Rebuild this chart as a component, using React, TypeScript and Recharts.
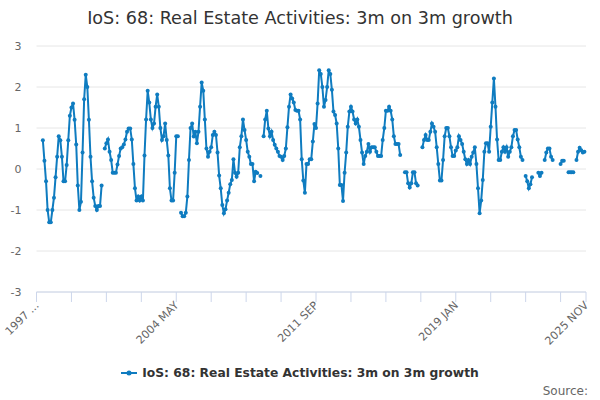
import React from "react"
import { CartesianGrid, Line, LineChart, XAxis, YAxis } from "recharts"

const MONTH_NAMES = ["JAN", "FEB", "MAR", "APR", "MAY", "JUN", "JUL", "AUG", "SEP", "OCT", "NOV", "DEC"]

// 1997 JAN .. 2025 NOV
const months: string[] = []
for (let y = 1997; y <= 2025; y++) {
  for (let m = 0; m < 12; m++) {
    if (y === 2025 && m > 10) break
    months.push(`${y} ${MONTH_NAMES[m]}`)
  }
}

// 3m on 3m growth, %, one value per month (null = no data)
const growth: (number | null)[] = [
  null, null, null, null,
  0.7, 0.2, -0.3, -1.0, -1.3, -1.3, -1.0, -0.7, -0.2, 0.3,
  0.8, 0.7, 0.3, -0.3, -0.3, 0.1, 0.7, 1.3, 1.5, 1.6,
  1.2, 0.6, -0.4, -1.0, -0.8, 0.4, 1.7, 2.3, 2.0, 1.2,
  0.3, -0.3, -0.7, -0.9, -1.0, -0.9, -0.9, -0.4,
  null,
  0.5, 0.63, 0.72, 0.42, 0.22, -0.09, -0.09, -0.09, 0.11, 0.32, 0.5, 0.53,
  0.6, 0.72, 0.91, 0.99, 0.99, 0.72, 0.12, -0.47, -0.77, -0.67,
  -0.77, -0.67, -0.77, 0.33, 1.21, 1.91,
  1.62, 1.21, 1.0, 1.11, 1.52, 1.82, 1.52, 1.0, 0.71, 0.8,
  1.11, 0.71, 0.33, -0.47, -0.77, -0.77, -0.09, 0.8, 0.8,
  null,
  -1.07, -1.15, -1.15, -1.07, -0.67, 0.22, 1.0, 1.11, 0.79, 0.91,
  0.63, 0.91, 1.52, 2.11, 1.91, 1.21, 0.5, 0.3, 0.42, 0.53,
  0.83, 0.91, 0.83, 0.4, -0.16, -0.47, -0.88, -1.08, -0.98, -0.77,
  -0.58, -0.37, -0.27, 0.24, -0.09, -0.19, -0.09, 0.53, 0.8, 1.21,
  0.95, 0.71, 0.42, 0.3, 0.12, 0.12, -0.3, -0.07, -0.1,
  null, -0.17, null,
  0.8, 1.21, 1.42, 0.99, 0.8, 0.91, 0.71,
  0.59, 0.5, 0.42, 0.32, 0.3, 0.22, 0.32, 0.5, 1.02, 1.52,
  1.82, 1.72, 1.62, 1.44, 1.42, 1.42, 1.21, 0.24, -0.28, -0.58,
  0.12, 0.12, 0.24, 0.24, 0.67, 1.1, 1.0, 1.6, 2.41, 2.32,
  2.0, 1.52, 1.68, 2.0, 2.41, 2.32, 1.93, 1.4, 1.32, 1.11,
  0.5, -0.39, -0.39, -0.78, -0.09, 0.4, 1.03, 1.4, 1.52, 1.4,
  1.21, 1.11, 1.21, 1.03, 0.71, 0.4, 0.12, 0.32, 0.42, 0.61,
  0.42, 0.53, 0.53, 0.53, 0.42, 0.32, 0.32, 0.32, 0.71, 1.0,
  1.42, 1.42, 1.52, 1.42, 1.21, 0.8, 0.61, 0.61, 0.61, 0.34,
  null, null,
  -0.08, -0.08, -0.35, -0.45, -0.35, -0.08, -0.08, -0.35, -0.4,
  null, null,
  0.53, 0.71, 0.83, 0.71, 0.71, 0.91, 1.11,
  1.03, 0.91, 0.53, 0.12, -0.28, -0.28, 0.22, 0.8, 1.0, 1.0,
  0.8, 0.53, 0.32, 0.32, 0.45, 0.53, 0.8, 0.71, 0.61, 0.42,
  0.24, 0.12, 0.22, 0.12, 0.3, 0.4, 0.53, 0.12, -0.47, -1.08,
  -0.77, -0.27, 0.42, 0.63, 0.63, 0.42, 1.03, 1.62, 2.21, 1.52,
  0.72, 0.22, 0.22, 0.42, 0.53, 0.42, 0.53, 0.3, 0.42, 0.53,
  0.8, 0.95, 0.95, 0.72, 0.53, 0.3, 0.22,
  null,
  -0.17, -0.3, -0.47, -0.37, -0.2,
  null, null, null,
  -0.09, -0.17, -0.09,
  null,
  0.22, 0.4, 0.5, 0.5, 0.3, 0.22,
  null, null, null, null,
  0.12, 0.2, 0.2,
  null, null,
  -0.08, -0.08, -0.08, -0.08,
  null,
  0.22, 0.42, 0.52, 0.46, 0.4, 0.42,
  null,
]

const yTicks = [-3, -2, -1, 0, 1, 2, 3]

// tick marks every 22 months plus the last month, labels on some of them
const tickMonths = [
  "1997 JAN", "1998 NOV", "2000 SEP", "2002 JUL", "2004 MAY", "2006 MAR", "2008 JAN",
  "2009 NOV", "2011 SEP", "2013 JUL", "2015 MAY", "2017 MAR", "2019 JAN", "2020 NOV",
  "2022 SEP", "2024 JUL", "2025 NOV",
]
const tickLabels: Record<string, string> = {
  "1997 JAN": "1997 ...",
  "2004 MAY": "2004 MAY",
  "2011 SEP": "2011 SEP",
  "2019 JAN": "2019 JAN",
  "2025 NOV": "2025 NOV",
}

const data = months.map((month, i) => ({ month, value: growth[i] ?? null }))

const BLUE = "#0f7cc0"
const FONT = "'DejaVu Sans', Verdana, sans-serif"
const TITLE = "IoS: 68: Real Estate Activities: 3m on 3m growth"

const MonthTick = (props: any) => {
  const { x, y, payload } = props
  const label = tickLabels[payload.value]
  if (!label) return null
  const tx = x + 3
  const ty = y + 2
  return (
    <text
      x={tx}
      y={ty}
      transform={`rotate(-45 ${tx} ${ty})`}
      textAnchor="end"
      fontSize={11}
      fill="#666666"
      fontFamily={FONT}
    >
      {label}
    </text>
  )
}

export default function App() {
  return (
    <div
      style={{
        position: "absolute",
        left: 0,
        top: 0,
        width: 600,
        height: 400,
        background: "#ffffff",
        fontFamily: FONT,
      }}
    >
      <div
        style={{
          position: "absolute",
          top: 7,
          left: 0,
          width: 600,
          textAlign: "center",
          fontSize: 17.6,
          lineHeight: "22px",
          color: "#333333",
        }}
      >
        {TITLE}
      </div>

      <LineChart width={600} height={400} data={data} margin={{ top: 46, right: 14, bottom: 48, left: 6.5 }}>
        <CartesianGrid vertical={false} stroke="#e6e6e6" />
        <XAxis
          dataKey="month"
          ticks={tickMonths}
          interval={0}
          tick={<MonthTick />}
          tickSize={10}
          tickMargin={2}
          stroke="#ccd6eb"
          tickLine={{ stroke: "#ccd6eb" }}
          axisLine={{ stroke: "#ccd6eb" }}
          height={60}
        />
        <YAxis
          domain={[-3, 3]}
          ticks={yTicks}
          width={30}
          tickSize={0}
          tickMargin={15}
          axisLine={false}
          tickLine={false}
          tick={{ fontSize: 11, fill: "#666666", fontFamily: FONT }}
        />
        <Line
          type="linear"
          dataKey="value"
          stroke={BLUE}
          strokeWidth={2}
          dot={{ r: 2, fill: BLUE, stroke: BLUE, strokeWidth: 0 }}
          connectNulls={false}
          isAnimationActive={false}
        />
      </LineChart>

      <div
        style={{
          position: "absolute",
          top: 366,
          left: 0,
          width: 600,
          display: "flex",
          justifyContent: "center",
          alignItems: "center",
          fontSize: 12.3,
          fontWeight: "bold",
          color: "#333333",
        }}
      >
        <svg width={16} height={10} style={{ marginRight: 5 }}>
          <line x1={0} y1={5} x2={16} y2={5} stroke={BLUE} strokeWidth={2} />
          <circle cx={8} cy={5} r={2.5} fill={BLUE} />
        </svg>
        <span>{TITLE}</span>
      </div>

      <div
        style={{
          position: "absolute",
          top: 384,
          right: 12,
          fontSize: 12,
          color: "#666666",
        }}
      >
        Source:
      </div>
    </div>
  )
}
